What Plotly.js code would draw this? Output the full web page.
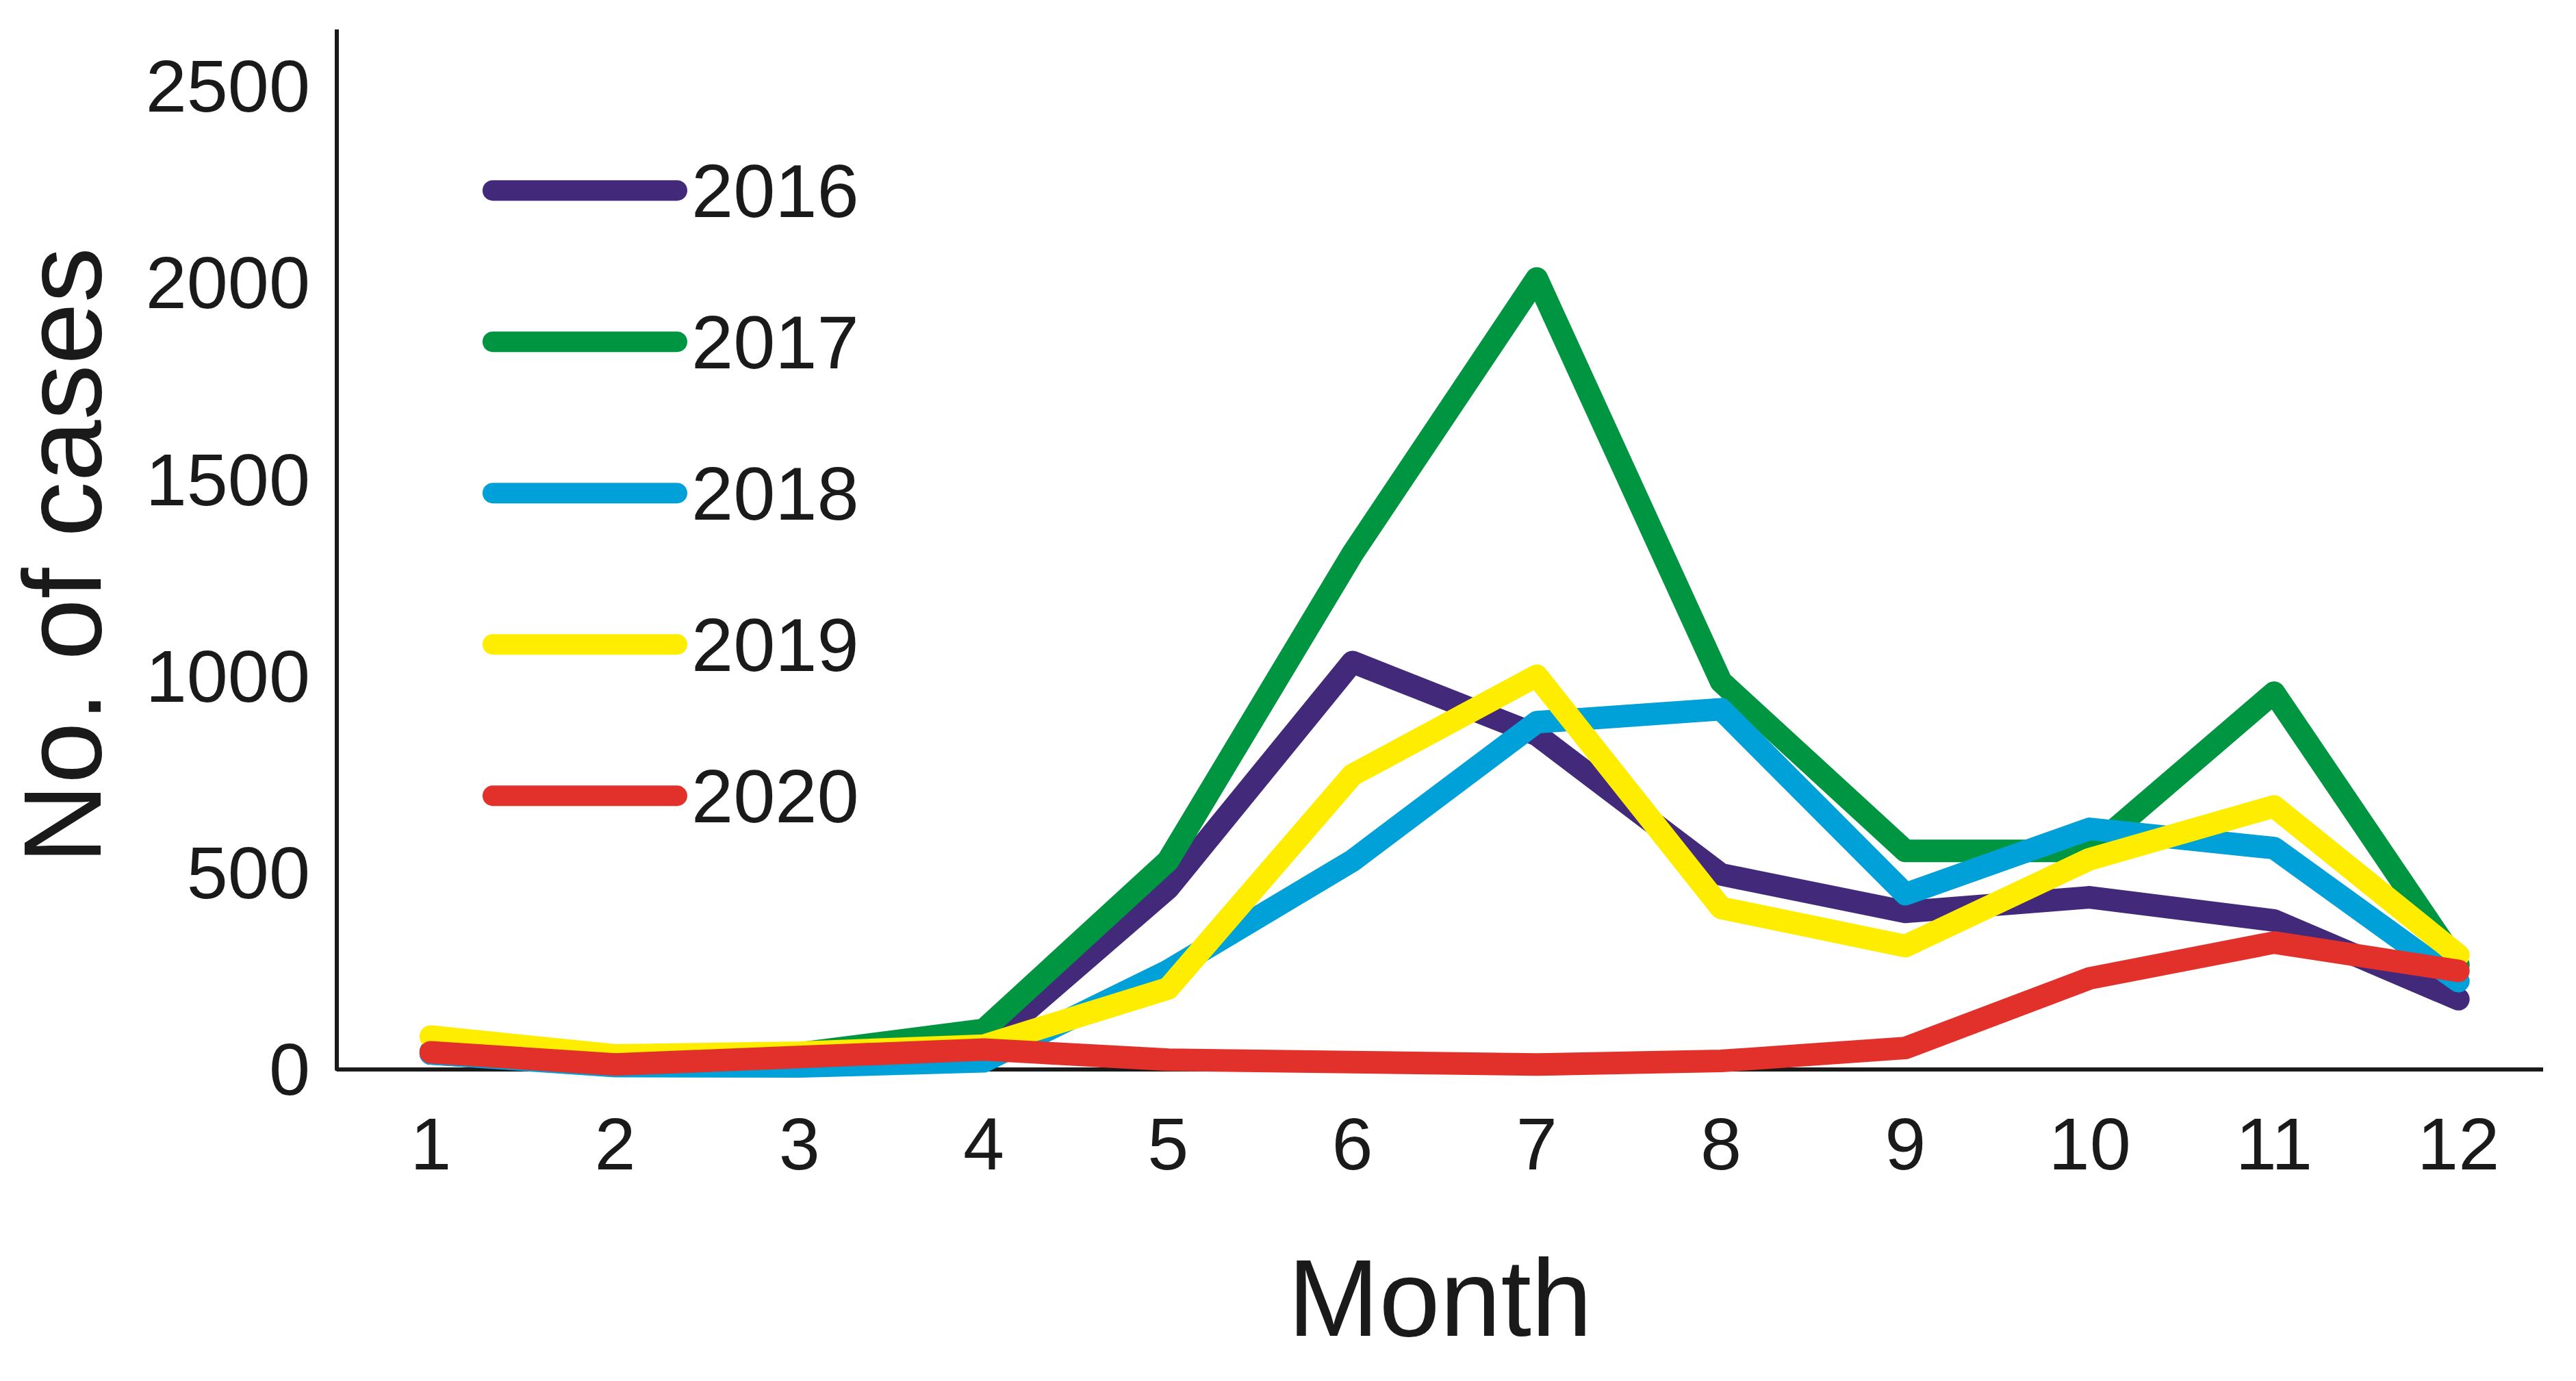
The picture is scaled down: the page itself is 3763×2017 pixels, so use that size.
<!DOCTYPE html>
<html>
<head>
<meta charset="utf-8">
<script src="https://cdn.plot.ly/plotly-3.0.1.min.js"></script>
<style>
html,body{margin:0;padding:0;background:#fff;}
#chart .scatterlayer .js-line{stroke-linecap:round !important;stroke-linejoin:round !important;}
#chart .shapelayer path{stroke-linecap:round !important;}
</style>
</head>
<body>
<div id="chart"></div>
<script>
// ---- data ----
const months = [1, 2, 3, 4, 5, 6, 7, 8, 9, 10, 11, 12];
const seriesNames = ['2016', '2017', '2018', '2019', '2020'];
const cases2016 = [40, 10, 35, 55, 460, 1035, 850, 495, 400, 437, 378, 178];
const cases2017 = [45, 15, 40, 100, 530, 1310, 2010, 985, 555, 555, 957, 265];
const cases2018 = [40, 8, 7, 20, 250, 530, 882, 915, 445, 611, 562, 224];
const cases2019 = [83, 35, 42, 60, 205, 748, 1000, 410, 313, 534, 668, 290];
const cases2020 = [43, 12, 31, 50, 24, 15, 12, 21, 54, 231, 322, 250];
const yTickVals = [0, 500, 1000, 1500, 2000, 2500];

// ---- styling ----
const seriesValues = [cases2016, cases2017, cases2018, cases2019, cases2020];
const colors = ['#43297a', '#009641', '#00a0d8', '#ffed00', '#e2312a'];
const FONT = 'Liberation Sans, Arial, Helvetica, sans-serif';
const LW = 33;
const yMin = -32, yMax = 2643;

const traces = seriesNames.map((name, i) => ({
  type: 'scatter',
  mode: 'lines',
  name: name,
  x: months,
  y: seriesValues[i],
  line: {color: colors[i], width: LW},
  showlegend: false,
  hoverinfo: 'skip'
}));

// custom legend (long line samples) drawn in paper coordinates
const legX0 = 0.0707, legX1 = 0.1542, legTextX = 0.1601;
const legTop = 0.847, legStep = 0.1438;
const shapes = [
  // y axis line from 0 to top
  {type: 'line', xref: 'paper', yref: 'y', x0: 0, x1: 0, y0: 0, y1: yMax,
   line: {color: '#1a1a1a', width: 6}, layer: 'below'}
];
const annotations = [];
seriesNames.forEach((name, i) => {
  const yy = legTop - i * legStep;
  shapes.push({type: 'line', xref: 'paper', yref: 'paper', x0: legX0, x1: legX1, y0: yy, y1: yy,
    line: {color: colors[i], width: 30}});
  annotations.push({xref: 'paper', yref: 'paper', x: legTextX, y: yy, text: name, showarrow: false,
    xanchor: 'left', yanchor: 'middle', font: {family: FONT, size: 110, color: '#1a1a1a'}});
});

const layout = {
  width: 3763,
  height: 2017,
  margin: {l: 492, r: 48, t: 43, b: 437, pad: 0},
  paper_bgcolor: '#ffffff',
  plot_bgcolor: '#ffffff',
  showlegend: false,
  font: {family: FONT, color: '#1a1a1a'},
  xaxis: {
    range: [0.49, 12.46],
    tickmode: 'array',
    tickvals: months,
    ticktext: months.map(String),
    showgrid: false,
    zeroline: false,
    showline: false,
    ticks: '',
    ticklabelstandoff: 19,
    tickfont: {family: FONT, size: 108, color: '#1a1a1a'},
    title: {text: 'Month', font: {family: FONT, size: 160, color: '#1a1a1a'}, standoff: 108}
  },
  yaxis: {
    range: [yMin, yMax],
    tickmode: 'array',
    tickvals: yTickVals,
    ticktext: yTickVals.map(String),
    showgrid: false,
    zeroline: true,
    zerolinecolor: '#1a1a1a',
    zerolinewidth: 6,
    showline: false,
    ticks: '',
    ticklabelstandoff: 38,
    tickfont: {family: FONT, size: 108, color: '#1a1a1a'},
    title: {text: 'No. of cases', font: {family: FONT, size: 162, color: '#1a1a1a'}, standoff: 14}
  },
  shapes: shapes,
  annotations: annotations
};

Plotly.newPlot('chart', traces, layout, {staticPlot: true, displayModeBar: false});
</script>
</body>
</html>
